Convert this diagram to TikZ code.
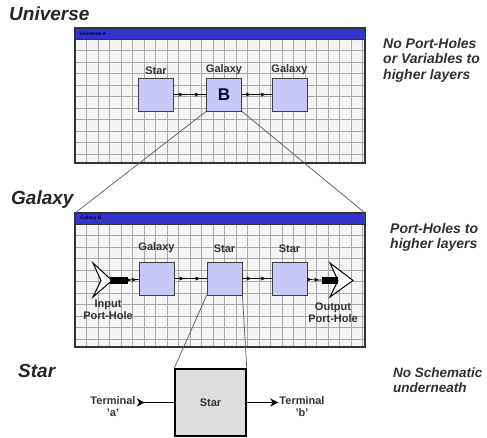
\documentclass[tikz,border=0pt]{standalone}
\usepackage{fontspec}
\setmainfont{Liberation Sans}
\usetikzlibrary{arrows.meta,decorations.markings}

\definecolor{boxfill}{HTML}{C8C8F6}
\definecolor{barblue}{HTML}{3434CC}
\definecolor{gridgray}{HTML}{A8A8A8}
\definecolor{notegray}{HTML}{303030}

\tikzset{
  pane/.style={draw=black!80, line width=1.2pt},
  bar/.style={draw=black!80, line width=0.8pt, fill=barblue},
  gridline/.style={gridgray, line width=0.5pt},
  blk/.style={draw=black!75, line width=0.9pt, fill=boxfill, minimum width=35pt, minimum height=33pt, inner sep=0pt},
  lbl/.style={font=\fontsize{11}{12}\selectfont\bfseries, text=black!80, inner sep=1pt, align=center},
  level/.style={font=\fontsize{19}{21}\selectfont\bfseries\itshape, text=black!85, anchor=base west, inner sep=0pt},
  note/.style={font=\fontsize{14}{15.5}\selectfont\bfseries\itshape, text=notegray, align=left, anchor=north west, inner sep=0pt},
  wintitle/.style={font=\fontsize{5}{5}\selectfont\bfseries, text=blue!30!black, anchor=west, inner sep=0pt},
  flow/.style={line width=0.7pt, postaction={decorate}, decoration={markings,
    mark=at position 0.3 with {\arrow{Stealth[length=5pt,width=4pt]}},
    mark=at position 0.8 with {\arrow{Stealth[length=5pt,width=4pt]}}}},
  zoomline/.style={black!65, line width=0.7pt},
  port/.style={draw=black, line width=1pt, fill=white, line join=miter},
}

\begin{document}
\begin{tikzpicture}[x=1pt, y=-1pt, >=stealth]
  \useasboundingbox (0,0) rectangle (487,438);

  % level titles and notes
  \node[level] (tuni) at (9,21) {Universe};
  \node[level] (tgal) at (11,205) {Galaxy};
  \node[level] (tstar) at (18,377) {Star};
  \node[note] (nuni) at (383,38) {No Port-Holes\\or Variables to\\higher layers};
  \node[note] (ngal) at (390,223) {Port-Holes to\\higher layers};
  \node[note, font=\fontsize{13.5}{15}\selectfont\bfseries\itshape] (nstar) at (393,368) {No Schematic\\underneath};

  % universe window
  \fill[black!4] (75,28) rectangle (365,163);
  \foreach \gx in {1,...,25} \draw[gridline] ({75+11.5*\gx},39) -- ++(0,124);
  \foreach \gy in {1,...,10} \draw[gridline] (75,{39+11.5*\gy}) -- ++(290,0);
  \draw[pane] (75,28) rectangle (365,163);
  \draw[bar] (75,28) rectangle (365,39);
  \node[wintitle] (wuni) at (80,33.5) {Universe A};

  \node[blk, label={[lbl, label distance=2pt]above:Star}] (u1) at (156,94.5) {};
  \node[blk, font=\fontsize{17}{17}\selectfont\bfseries, text=blue!25!black, label={[lbl, label distance=2pt]above:Galaxy}] (u2) at (224,94.5) {B};
  \node[blk, label={[lbl, label distance=2pt]above:Galaxy}] (u3) at (289.5,94.5) {};
  \draw[flow] (u1) -- (u2);
  \draw[flow] (u2) -- (u3);

  % galaxy window
  \fill[black!4] (75,213) rectangle (365,347);
  \foreach \gx in {1,...,25} \draw[gridline] ({75+11.5*\gx},224) -- ++(0,123);
  \foreach \gy in {1,...,10} \draw[gridline] (75,{224+11.5*\gy}) -- ++(290,0);
  \draw[pane] (75,213) rectangle (365,347);
  \draw[bar] (75,213) rectangle (365,224);
  \node[wintitle] (wgal) at (80,218.5) {Galaxy B};
  \coordinate (gnw) at (75,213);
  \coordinate (gne) at (365,213);

  \node[blk, label={[lbl, label distance=8pt]above:Galaxy}] (g1) at (156.5,278.5) {};
  \node[blk, label={[lbl, label distance=8pt]above:Star}] (g2) at (224.5,278.5) {};
  \node[blk, label={[lbl, label distance=8pt]above:Star}] (g3) at (289.5,278.5) {};

  % port-holes
  \draw[port] (93,263) -- (112,280.5) -- (93,297) -- (101,280.5) -- cycle;
  \node[fill=black, minimum width=18pt, minimum height=7pt, inner sep=0pt] (inbar) at (119,280.5) {};
  \draw[port] (330,263) -- (353,280.5) -- (330,297) -- (338,280.5) -- cycle;
  \node[fill=black, minimum width=16pt, minimum height=7pt, inner sep=0pt] (outbar) at (330,280.5) {};
  \node[lbl] (pin) at (108,310) {Input\\Port-Hole};
  \node[lbl] (pout) at (333,313) {Output\\Port-Hole};

  \draw[flow] (inbar) -- (g1);
  \draw[flow] (g1) -- (g2);
  \draw[flow] (g2) -- (g3);
  \draw[flow] (g3) -- (outbar);

  % star block
  \node[draw=black, line width=1.5pt, fill=black!13, minimum width=71pt, minimum height=67pt, inner sep=0pt, font=\fontsize{11}{12}\selectfont\bfseries, text=black!80] (sb) at (210.5,402.5) {Star};
  \node[lbl] (ta) at (113,407) {Terminal\\'a'};
  \node[lbl] (tb) at (302,407) {Terminal\\'b'};
  \draw[line width=1.3pt, {Stealth[reversed,length=8pt,width=8pt]}-] (ta.east |- sb.west) -- (sb.west);
  \draw[line width=1.3pt, -{Stealth[length=8pt,width=8pt]}] (sb.east) -- (tb.west |- sb.east);

  % zoom lines
  \draw[zoomline] (u2.south west) -- (gnw);
  \draw[zoomline] (u2.south east) -- (gne);
  \draw[zoomline] (g2.south west) -- (sb.north west);
  \draw[zoomline] (g2.south east) -- (sb.north east);
\end{tikzpicture}
\end{document}
